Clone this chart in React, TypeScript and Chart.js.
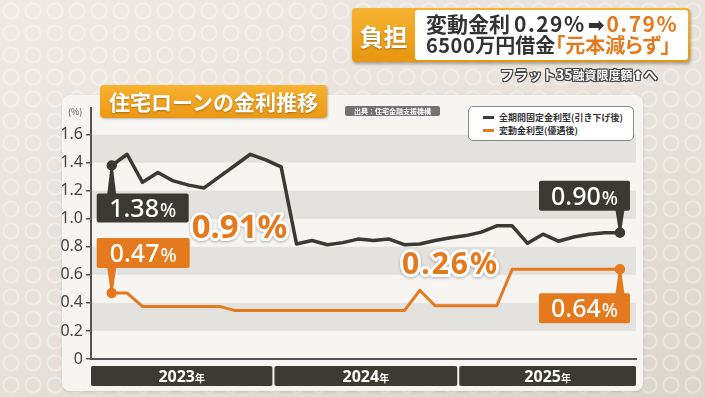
import React, { useEffect, useRef } from "react";
import { Chart, registerables } from "chart.js";
Chart.register(...registerables);

// ---- data ----
const months = [
  "2023-02", "2023-03", "2023-04", "2023-05", "2023-06", "2023-07", "2023-08", "2023-09", "2023-10", "2023-11", "2023-12",
  "2024-01", "2024-02", "2024-03", "2024-04", "2024-05", "2024-06", "2024-07", "2024-08", "2024-09", "2024-10", "2024-11", "2024-12",
  "2025-01", "2025-02", "2025-03", "2025-04", "2025-05", "2025-06", "2025-07", "2025-08", "2025-09", "2025-10", "2025-11",
];
const fixedRate = [
  1.38, 1.46, 1.26, 1.33, 1.27, 1.24, 1.22, 1.3, 1.38, 1.46, 1.42,
  1.37, 0.82, 0.845, 0.815, 0.83, 0.855, 0.845, 0.855, 0.815, 0.82, 0.845, 0.865,
  0.88, 0.905, 0.95, 0.95, 0.825, 0.89, 0.84, 0.87, 0.89, 0.9, 0.9,
];
const variableRate = [
  0.47, 0.47, 0.375, 0.375, 0.375, 0.375, 0.375, 0.375, 0.345, 0.345, 0.345,
  0.345, 0.345, 0.345, 0.345, 0.345, 0.345, 0.345, 0.345, 0.345, 0.49, 0.38, 0.38,
  0.38, 0.38, 0.38, 0.64, 0.64, 0.64, 0.64, 0.64, 0.64, 0.64, 0.64,
];
const seriesNames = ["全期間固定金利型(引き下げ後)", "変動金利型(優遇後)"];
const seriesColors = ["#3b3934", "#e5791d"];
const yTicks = [0, 0.2, 0.4, 0.6, 0.8, 1.0, 1.2, 1.4, 1.6];
const years = ["2023", "2024", "2025"];
const freeLabels = [
  { text: "0.91%", x: 8.3, y: 0.945, size: 33, spacing: 0 },
  { text: "0.26%", x: 22.0, y: 0.68, size: 30, spacing: 2 },
];

const DARK = "#3b3934";
const ORANGE = "#e5791d";
const FONT = '"Noto Sans", "Noto Sans CJK JP", sans-serif';

function rr(ctx: CanvasRenderingContext2D, x: number, y: number, w: number, h: number, r: number) {
  ctx.beginPath();
  ctx.moveTo(x + r, y);
  ctx.lineTo(x + w - r, y);
  ctx.quadraticCurveTo(x + w, y, x + w, y + r);
  ctx.lineTo(x + w, y + h - r);
  ctx.quadraticCurveTo(x + w, y + h, x + w - r, y + h);
  ctx.lineTo(x + r, y + h);
  ctx.quadraticCurveTo(x, y + h, x, y + h - r);
  ctx.lineTo(x, y + r);
  ctx.quadraticCurveTo(x, y, x + r, y);
  ctx.closePath();
}

const bandsPlugin = {
  id: "bands",
  beforeDraw(chart: any) {
    const { ctx, chartArea, scales } = chart;
    const y = scales.y;
    ctx.save();
    ctx.fillStyle = "#e4e2de";
    for (let i = 0; i < yTicks.length - 1; i++) {
      if (i % 2 === 1) {
        const top = y.getPixelForValue(yTicks[i + 1]);
        const bot = y.getPixelForValue(yTicks[i]);
        ctx.fillRect(chartArea.left, top, chartArea.right - chartArea.left, bot - top);
      }
    }
    ctx.restore();
  },
};

const calloutPlugin = {
  id: "callouts",
  afterDatasetsDraw(chart: any) {
    const { ctx, scales } = chart;
    const x = scales.x;
    const y = scales.y;
    const n = months.length;
    const callouts = [
      { data: fixedRate, idx: 0, color: DARK, below: true, dx: -15, gap: 28, w: 92, h: 29 },
      { data: variableRate, idx: 0, color: ORANGE, below: false, dx: -15, gap: 25, w: 93, h: 30 },
      { data: fixedRate, idx: n - 1, color: DARK, below: false, dx: -81, gap: 22, w: 91, h: 30 },
      { data: variableRate, idx: n - 1, color: ORANGE, below: true, dx: -81, gap: 24, w: 91, h: 30 },
    ];
    ctx.save();
    for (const c of callouts) {
      const px = x.getPixelForValue(c.idx);
      const py = y.getPixelForValue(c.data[c.idx]);
      const left = px + c.dx;
      const top = c.below ? py + c.gap : py - c.gap - c.h;
      ctx.fillStyle = c.color;
      const edgeY = c.below ? top + 1 : top + c.h - 1;
      ctx.beginPath();
      ctx.moveTo(px - 4.5, edgeY);
      ctx.lineTo(px + 4.5, edgeY);
      ctx.lineTo(px + 1, py);
      ctx.lineTo(px - 1, py);
      ctx.closePath();
      ctx.fill();
      rr(ctx, left, top, c.w, c.h, 2);
      ctx.fill();
      ctx.beginPath();
      ctx.arc(px, py, 5, 0, Math.PI * 2);
      ctx.fill();
      const num = c.data[c.idx].toFixed(2);
      ctx.font = `500 25px ${FONT}`;
      const w1 = ctx.measureText(num).width;
      ctx.font = `500 19px ${FONT}`;
      const w2 = ctx.measureText("%").width;
      const sx = left + (c.w - w1 - w2 - 1) / 2;
      const base = top + c.h / 2 + 9;
      ctx.fillStyle = "#ffffff";
      ctx.textBaseline = "alphabetic";
      ctx.textAlign = "left";
      ctx.font = `500 25px ${FONT}`;
      ctx.fillText(num, sx, base);
      ctx.font = `500 19px ${FONT}`;
      ctx.fillText("%", sx + w1 + 1, base);
    }
    // free annotations
    for (const f of freeLabels) {
      const px = x.getPixelForValue(f.x);
      const py = y.getPixelForValue(f.y);
      ctx.font = `700 ${f.size}px ${FONT}`;
      (ctx as any).letterSpacing = `${f.spacing}px`;
      ctx.textAlign = "center";
      ctx.textBaseline = "alphabetic";
      const base = py + f.size * 0.36;
      ctx.lineJoin = "round";
      ctx.shadowColor = "rgba(0,0,0,0.3)";
      ctx.shadowBlur = 3;
      ctx.shadowOffsetY = 1;
      ctx.strokeStyle = "#ffffff";
      ctx.lineWidth = 6;
      ctx.strokeText(f.text, px, base);
      ctx.shadowColor = "transparent";
      ctx.fillStyle = ORANGE;
      ctx.fillText(f.text, px, base);
      (ctx as any).letterSpacing = "0px";
    }
    ctx.restore();
  },
};

const yearPlugin = {
  id: "years",
  afterDraw(chart: any) {
    const { ctx, chartArea, scales } = chart;
    const x = scales.x;
    const top = chartArea.bottom + 7;
    const h = 20;
    ctx.save();
    years.forEach((yr, i) => {
      const first = months.findIndex((m) => m.startsWith(yr));
      const nextFirst = i < years.length - 1 ? months.findIndex((m) => m.startsWith(years[i + 1])) : -1;
      const a = i === 0 ? x.min : first - 0.5;
      const b = i === years.length - 1 ? x.max : nextFirst - 0.5;
      const l = x.getPixelForValue(a) + (i > 0 ? 1 : 0);
      const r = x.getPixelForValue(b) - (i < years.length - 1 ? 1 : 0);
      ctx.fillStyle = "#3d3a34";
      rr(ctx, l, top, r - l, h, 2);
      ctx.fill();
      ctx.fillStyle = "#ffffff";
      ctx.font = `700 16px ${FONT}`;
      const w1 = ctx.measureText(yr).width;
      ctx.font = `700 10px "Noto Sans CJK JP", sans-serif`;
      const w2 = ctx.measureText("年").width;
      const sx = (l + r) / 2 - (w1 + w2) / 2;
      const base = top + h / 2 + 6;
      ctx.textAlign = "left";
      ctx.textBaseline = "alphabetic";
      ctx.font = `700 16px ${FONT}`;
      ctx.fillText(yr, sx, base);
      ctx.font = `700 10px "Noto Sans CJK JP", sans-serif`;
      ctx.fillText("年", sx + w1, base);
    });
    ctx.restore();
  },
};

export default function App() {
  const ref = useRef<HTMLCanvasElement>(null);
  useEffect(() => {
    if (!ref.current) return;
    const n = months.length;
    const mk = (arr: number[]) => arr.map((v, i) => ({ x: i, y: v }));
    const chart = new Chart(ref.current, {
      type: "line",
      data: {
        datasets: [
          {
            label: seriesNames[0],
            data: mk(fixedRate),
            borderColor: seriesColors[0],
            backgroundColor: seriesColors[0],
            borderWidth: 3.5,
            borderJoinStyle: "round",
            pointRadius: (c: any) => (c.dataIndex === 0 || c.dataIndex === n - 1 ? 5 : 0),
            pointBorderWidth: 0,
            pointBackgroundColor: seriesColors[0],
            tension: 0,
          },
          {
            label: seriesNames[1],
            data: mk(variableRate),
            borderColor: seriesColors[1],
            backgroundColor: seriesColors[1],
            borderWidth: 3,
            borderJoinStyle: "round",
            pointRadius: (c: any) => (c.dataIndex === 0 || c.dataIndex === n - 1 ? 5 : 0),
            pointBorderWidth: 0,
            pointBackgroundColor: seriesColors[1],
            tension: 0,
          },
        ],
      },
      options: {
        responsive: false,
        animation: false,
        layout: { padding: { left: 51, right: 69, top: 108, bottom: 38 } },
        plugins: { legend: { display: false }, tooltip: { enabled: false } },
        scales: {
          x: {
            type: "linear",
            min: -1.344,
            max: 34.04,
            ticks: { display: false },
            grid: { display: true, drawOnChartArea: false, drawTicks: false },
            border: { display: true, color: "#555", width: 2 },
            afterFit: (s: any) => {
              s.height = 0;
            },
          },
          y: {
            min: 0,
            max: 1.79,
            afterBuildTicks: (s: any) => {
              s.ticks = yTicks.map((v) => ({ value: v }));
            },
            ticks: {
              color: "#444",
              padding: 3,
              font: { family: FONT, size: 16 },
              callback: (v: any) => (Number(v) === 0 ? "0" : Number(v).toFixed(1)),
            },
            grid: { drawOnChartArea: false, drawTicks: true, tickLength: 5, color: "#555", lineWidth: 1.5 },
            border: { display: true, color: "#555", width: 2 },
            afterFit: (s: any) => {
              s.width = 40;
            },
          },
        },
      },
      plugins: [bandsPlugin, calloutPlugin, yearPlugin],
    } as any);
    return () => chart.destroy();
  }, []);

  const jp = '"Noto Sans CJK JP", "Noto Sans", sans-serif';
  const outline =
    "-1px -1px 0 #444, 1px -1px 0 #444, -1px 1px 0 #444, 1px 1px 0 #444, 0 1px 0 #444, 0 -1px 0 #444, 1px 0 0 #444, -1px 0 0 #444";
  return (
    <div
      style={{
        position: "fixed",
        left: 0,
        top: 0,
        width: 705,
        height: 397,
        overflow: "hidden",
        fontFamily: jp,
        background: "linear-gradient(160deg, #eee9e2 0%, #e7e1d9 55%, #dcd5cb 100%)",
      }}
    >
      <div
        style={{
          position: "absolute",
          inset: 0,
          backgroundImage:
            "radial-gradient(circle, transparent 6px, rgba(255,255,255,0.35) 7px, rgba(255,255,255,0.35) 8px, transparent 9px)",
          backgroundSize: "22px 22px",
        }}
      />
      {/* panel */}
      <div
        style={{
          position: "absolute",
          left: 62,
          top: 95,
          width: 581,
          height: 296,
          background: "#f6f5f2",
          borderRadius: 8,
          boxShadow: "0 1px 3px rgba(0,0,0,0.15)",
        }}
      />
      <canvas ref={ref} width={705} height={397} style={{ position: "absolute", left: 0, top: 0, width: 705, height: 397 }} />
      {/* title */}
      <div
        style={{
          position: "absolute",
          left: 100,
          top: 85,
          width: 227,
          height: 33,
          borderRadius: 4,
          background: "linear-gradient(#f7b330, #ec9714)",
          boxShadow: "1px 1px 2px rgba(0,0,0,0.25)",
          color: "#fff",
          fontSize: 21,
          fontWeight: 700,
          display: "flex",
          alignItems: "center",
          justifyContent: "center",
          textShadow: "0 1px 2px rgba(0,0,0,0.3)",
          lineHeight: 1,
        }}
      >
        住宅ローンの金利推移
      </div>
      <div
        style={{
          position: "absolute",
          left: 345,
          top: 106,
          width: 95,
          height: 10,
          borderRadius: 2,
          background: "#737373",
          color: "#fff",
          fontSize: 7,
          lineHeight: "10px",
          textAlign: "center",
          fontWeight: 700,
        }}
      >
        出典：住宅金融支援機構
      </div>
      <div style={{ position: "absolute", left: 68, top: 106, fontSize: 9, color: "#555", lineHeight: "12px" }}>(%)</div>
      {/* legend */}
      <div
        style={{
          position: "absolute",
          left: 468,
          top: 106,
          width: 164,
          height: 33,
          background: "#fff",
          border: "1px solid #8a8a8a",
          borderRadius: 5,
        }}
      >
        {seriesNames.map((s, i) => (
          <div
            key={s}
            style={{
              position: "absolute",
              left: 14,
              top: 4 + i * 13,
              height: 12,
              display: "flex",
              alignItems: "center",
              fontSize: 9,
              fontWeight: 700,
              color: "#333",
              whiteSpace: "nowrap",
            }}
          >
            <span style={{ display: "inline-block", width: 11, height: 3, background: seriesColors[i], marginRight: 5 }} />
            {s}
          </div>
        ))}
      </div>
      {/* header */}
      <div
        style={{
          position: "absolute",
          left: 352,
          top: 8,
          width: 338,
          height: 54,
          borderRadius: 4,
          background: "linear-gradient(#f6b332, #e8950f)",
          boxShadow: "1px 2px 3px rgba(0,0,0,0.3)",
        }}
      >
        <div
          style={{
            position: "absolute",
            left: 0,
            top: 0,
            width: 63,
            height: 54,
            display: "flex",
            alignItems: "center",
            justifyContent: "center",
            color: "#fff",
            fontSize: 24,
            fontWeight: 700,
            textShadow: "0 1px 2px rgba(0,0,0,0.3)",
          }}
        >
          負担
        </div>
        <div style={{ position: "absolute", left: 63, top: 2, right: 2, bottom: 2, background: "#fff", borderRadius: 3 }}>
          <div
            style={{
              position: "absolute",
              left: 11,
              top: 2,
              fontSize: 21,
              fontWeight: 700,
              lineHeight: "22px",
              color: "#333",
              whiteSpace: "nowrap",
            }}
          >
            変動金利<span style={{ marginLeft: 4, letterSpacing: 1.5 }}>0.29%</span>
            <span style={{ fontFamily: '"DejaVu Sans", sans-serif', fontSize: 20, margin: "0 2px" }}>➡</span>
            <span style={{ color: ORANGE, letterSpacing: 1.5 }}>0.79%</span>
          </div>
          <div
            style={{
              position: "absolute",
              left: 11,
              top: 24,
              fontSize: 20,
              fontWeight: 700,
              lineHeight: "22px",
              color: "#333",
              whiteSpace: "nowrap",
            }}
          >
            <span style={{ letterSpacing: 0.5 }}>6500</span>万円借金
            <span style={{ color: ORANGE, fontFeatureSettings: '"palt"' }}>「元本減らず」</span>
          </div>
        </div>
      </div>
      <div
        style={{
          position: "absolute",
          left: 500,
          top: 66,
          fontSize: 14,
          fontWeight: 700,
          color: "#fff",
          textShadow: outline,
          whiteSpace: "nowrap",
          lineHeight: "16px",
        }}
      >
        フラット35<span style={{ fontSize: 12 }}>融資限度額</span>
        <span style={{ fontFamily: '"DejaVu Sans", sans-serif', fontSize: 13 }}>⬆</span>へ
      </div>
    </div>
  );
}
